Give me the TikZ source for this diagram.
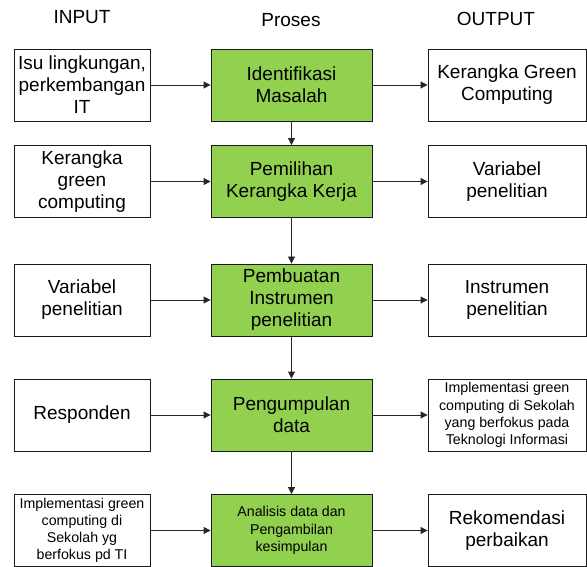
\documentclass[tikz,border=0pt]{standalone}
\usepackage{fontspec}
\setmainfont{Liberation Sans}
\usetikzlibrary{arrows.meta}
\definecolor{procgreen}{HTML}{92D050}
\begin{document}
\begin{tikzpicture}[x=1pt,y=-1pt,
  box/.style={draw=black!90,line width=0.9pt,fill=white,inner sep=0pt,align=center,minimum height=72pt,font=\fontsize{19}{22}\selectfont},
  inbox/.style={box,minimum width=136pt},
  procbox/.style={box,minimum width=161pt,fill=procgreen},
  outbox/.style={box,minimum width=158pt},
  small/.style={font=\fontsize{14.2}{17.2}\selectfont},
  head/.style={inner sep=0pt,font=\fontsize{19}{22}\selectfont},
  arr/.style={-{Triangle[length=7pt,width=7pt]},line width=0.9pt,draw=black!85}
]
\useasboundingbox (0,0) rectangle (587,567);
% headers
\node[head] (hin) at (82,17) {INPUT};
\node[head] (hpr) at (291,20) {Proses};
\node[head] (hout) at (496,19) {OUTPUT};
% row 1
\node[inbox] (i1) at (82,85) {Isu lingkungan,\\perkembangan\\IT};
\node[procbox] (p1) at (291.5,85) {Identifikasi\\Masalah};
\node[outbox] (o1) at (507,85) {Kerangka Green\\Computing};
% row 2
\node[inbox] (i2) at (82,181.5) {Kerangka\\green\\computing};
\node[procbox] (p2) at (291.5,181.5) {Pemilihan\\Kerangka Kerja};
\node[outbox] (o2) at (507,181.5) {Variabel\\penelitian};
% row 3
\node[inbox] (i3) at (82,300) {Variabel\\penelitian};
\node[procbox] (p3) at (291.5,300) {Pembuatan\\Instrumen\\penelitian};
\node[outbox] (o3) at (507,300) {Instrumen\\penelitian};
% row 4
\node[inbox] (i4) at (82,415) {Responden};
\node[procbox] (p4) at (291.5,415) {Pengumpulan\\data};
\node[outbox,small] (o4) at (507,415) {Implementasi green\\computing di Sekolah\\yang berfokus pada\\Teknologi Informasi};
% row 5
\node[inbox,small] (i5) at (82,530.5) {Implementasi green\\computing di\\Sekolah yg\\berfokus pd TI};
\node[procbox,small] (p5) at (291.5,530.5) {Analisis data dan\\Pengambilan\\kesimpulan};
\node[outbox] (o5) at (507,530.5) {Rekomendasi\\perbaikan};
% horizontal arrows
\foreach \r in {1,...,5}{
  \draw[arr] (i\r) -- (p\r);
  \draw[arr] (p\r) -- (o\r);
}
% vertical arrows
\draw[arr] (p1) -- (p2);
\draw[arr] (p2) -- (p3);
\draw[arr] (p3) -- (p4);
\draw[arr] (p4) -- (p5);
\end{tikzpicture}
\end{document}
